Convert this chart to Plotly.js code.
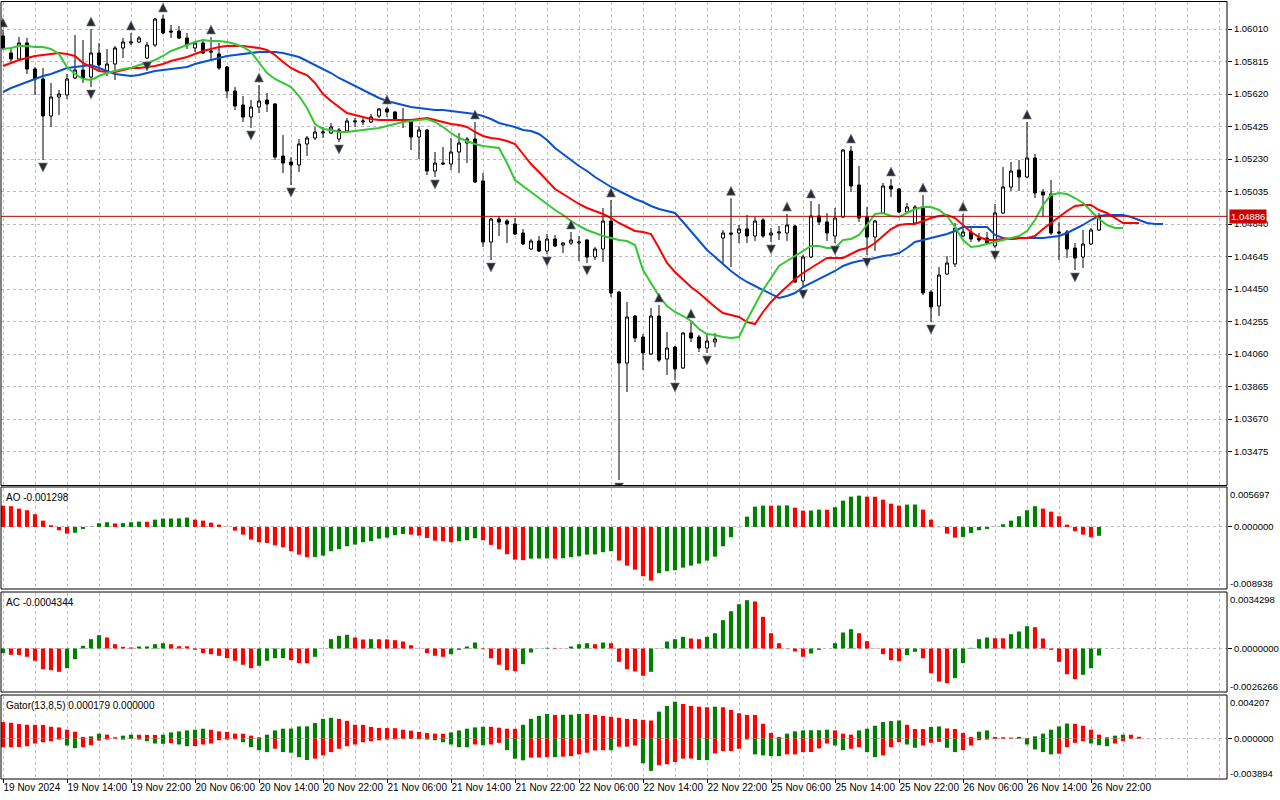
<!DOCTYPE html>
<html><head><meta charset="utf-8">
<script src="https://cdn.plot.ly/plotly-3.0.1.min.js"></script>
<style>html,body{margin:0;padding:0;background:#fff}#chart{width:1280px;height:800px}</style>
</head><body><div id="chart"></div>
<script>
// ---------- DATA (EURUSD H1, 19 Nov 06:00 .. 26 Nov 23:00) ----------
const xLabels = ["19 Nov 2024","19 Nov 14:00","19 Nov 22:00","20 Nov 06:00","20 Nov 14:00","20 Nov 22:00","21 Nov 06:00","21 Nov 14:00","21 Nov 22:00","22 Nov 06:00","22 Nov 14:00","22 Nov 22:00","25 Nov 06:00","25 Nov 14:00","25 Nov 22:00","26 Nov 06:00","26 Nov 14:00","26 Nov 22:00"];
const priceTicks = [1.03475,1.03670,1.03865,1.04060,1.04255,1.04450,1.04645,1.04840,1.05035,1.05230,1.05425,1.05620,1.05815,1.06010];
const lastPrice = 1.04886;

const opens = [1.05968,1.05866,1.05830,1.05926,1.05770,1.05710,1.05488,1.05602,1.05614,1.05716,
1.05764,1.05722,1.05866,1.05752,1.05800,1.05896,1.05926,1.05932,1.05836,1.05914,
1.06070,1.05998,1.05998,1.05956,1.05896,1.05926,1.05878,1.05860,1.05782,1.05638,
1.05554,1.05482,1.05542,1.05584,1.05560,1.05248,1.05212,1.05194,1.05320,1.05356,
1.05386,1.05386,1.05350,1.05398,1.05452,1.05452,1.05452,1.05488,1.05530,1.05512,
1.05464,1.05458,1.05362,1.05404,1.05158,1.05206,1.05200,1.05272,1.05326,1.05350,
1.05098,1.04732,1.04870,1.04858,1.04840,1.04786,1.04690,1.04738,1.04678,1.04750,
1.04714,1.04726,1.04726,1.04744,1.04642,1.04690,1.04858,1.04432,1.04006,1.04288,
1.04162,1.04060,1.04288,1.04030,1.04102,1.03976,1.04186,1.04162,1.04096,1.04132,
1.04756,1.04786,1.04786,1.04810,1.04768,1.04864,1.04774,1.04786,1.04786,1.04828,
1.04498,1.04642,1.04888,1.04852,1.04768,1.04882,1.05278,1.05074,1.04882,1.04762,
1.04906,1.05068,1.05050,1.04912,1.04846,1.04942,1.04432,1.04348,1.04540,1.04600,
1.04768,1.04792,1.04756,1.04756,1.04708,1.04906,1.05062,1.05164,1.05122,1.05236,
1.05032,1.05020,1.04792,1.04792,1.04696,1.04642,1.04720,1.04804];
const highs = [1.06004,1.05890,1.05962,1.05956,1.05782,1.05776,1.05686,1.05644,1.05740,1.05974,
1.05944,1.06010,1.05926,1.05890,1.05908,1.05956,1.05986,1.05968,1.05932,1.06076,
1.06094,1.06034,1.06028,1.05986,1.05938,1.05944,1.05962,1.05926,1.05788,1.05662,
1.05608,1.05584,1.05674,1.05626,1.05566,1.05374,1.05242,1.05350,1.05368,1.05422,
1.05422,1.05446,1.05416,1.05476,1.05476,1.05476,1.05500,1.05536,1.05542,1.05518,
1.05536,1.05470,1.05428,1.05410,1.05272,1.05302,1.05356,1.05386,1.05362,1.05452,
1.05146,1.04876,1.04888,1.04870,1.04876,1.04810,1.04750,1.04768,1.04780,1.04774,
1.04732,1.04792,1.04768,1.04750,1.04702,1.04936,1.04984,1.04438,1.04372,1.04294,
1.04180,1.04336,1.04354,1.04192,1.04108,1.04192,1.04258,1.04174,1.04180,1.04186,
1.04804,1.04994,1.04834,1.04894,1.04882,1.04876,1.04816,1.04828,1.04900,1.04834,
1.04654,1.04978,1.04960,1.04906,1.04936,1.05290,1.05308,1.05188,1.04942,1.04864,
1.05086,1.05110,1.05056,1.04966,1.04954,1.05014,1.04444,1.04582,1.04648,1.04846,
1.04900,1.04816,1.04786,1.04792,1.04960,1.05182,1.05212,1.05224,1.05452,1.05260,
1.05050,1.05104,1.04852,1.04804,1.04726,1.04804,1.04816,1.04906];
const lows = [1.05884,1.05812,1.05824,1.05740,1.05614,1.05224,1.05422,1.05494,1.05590,1.05710,
1.05686,1.05662,1.05764,1.05728,1.05704,1.05836,1.05914,1.05926,1.05830,1.05902,
1.05980,1.05956,1.05950,1.05890,1.05872,1.05860,1.05824,1.05764,1.05596,1.05524,
1.05452,1.05416,1.05506,1.05512,1.05224,1.05146,1.05074,1.05152,1.05248,1.05344,
1.05356,1.05380,1.05332,1.05392,1.05422,1.05434,1.05446,1.05476,1.05482,1.05458,
1.05416,1.05284,1.05230,1.05134,1.05122,1.05194,1.05164,1.05146,1.05206,1.05086,
1.04702,1.04624,1.04768,1.04726,1.04774,1.04714,1.04684,1.04672,1.04660,1.04702,
1.04666,1.04714,1.04618,1.04606,1.04624,1.04612,1.04402,1.03304,1.03832,1.04132,
1.03964,1.04054,1.04012,1.03934,1.03904,1.03970,1.04132,1.04072,1.04066,1.04102,
1.04606,1.04582,1.04726,1.04726,1.04738,1.04756,1.04732,1.04744,1.04738,1.04486,
1.04462,1.04636,1.04834,1.04738,1.04726,1.04876,1.05032,1.04852,1.04654,1.04678,
1.04900,1.05002,1.04906,1.04906,1.04840,1.04414,1.04252,1.04288,1.04534,1.04582,
1.04762,1.04732,1.04732,1.04720,1.04696,1.04900,1.05038,1.05038,1.05116,1.04996,
1.04882,1.04774,1.04624,1.04636,1.04564,1.04576,1.04714,1.04798];
const closes = [1.05896,1.05830,1.05926,1.05770,1.05710,1.05488,1.05602,1.05620,1.05710,1.05764,
1.05716,1.05866,1.05794,1.05800,1.05896,1.05932,1.05932,1.05956,1.05914,1.06070,
1.05986,1.05992,1.05956,1.05914,1.05926,1.05866,1.05872,1.05776,1.05638,1.05548,
1.05482,1.05542,1.05578,1.05560,1.05242,1.05206,1.05194,1.05320,1.05356,1.05392,
1.05392,1.05422,1.05404,1.05458,1.05458,1.05458,1.05482,1.05530,1.05512,1.05464,
1.05458,1.05362,1.05404,1.05158,1.05206,1.05200,1.05272,1.05326,1.05350,1.05092,
1.04732,1.04870,1.04852,1.04840,1.04780,1.04720,1.04738,1.04678,1.04750,1.04708,
1.04726,1.04744,1.04732,1.04642,1.04690,1.04858,1.04426,1.04006,1.04282,1.04156,
1.04066,1.04288,1.04024,1.04096,1.03970,1.04186,1.04156,1.04096,1.04138,1.04150,
1.04786,1.04780,1.04810,1.04768,1.04858,1.04768,1.04786,1.04792,1.04834,1.04492,
1.04642,1.04888,1.04852,1.04786,1.04876,1.05284,1.05068,1.04876,1.04762,1.04858,
1.05068,1.05050,1.04912,1.04942,1.04942,1.04426,1.04342,1.04534,1.04606,1.04816,
1.04792,1.04750,1.04744,1.04726,1.04906,1.05062,1.05158,1.05122,1.05236,1.05026,
1.05014,1.04786,1.04786,1.04690,1.04636,1.04720,1.04804,1.04886];

// Alligator lines (already shifted: jaw +8, teeth +5, lips +3 bars)
const jaw = [1.05632,1.05656,1.05674,1.05692,1.05710,1.05728,1.05740,1.05758,1.05776,1.05782,
1.05788,1.05794,1.05776,1.05758,1.05740,1.05734,1.05728,1.05734,1.05746,1.05758,
1.05764,1.05770,1.05776,1.05782,1.05800,1.05812,1.05824,1.05836,1.05848,1.05854,
1.05860,1.05866,1.05872,1.05872,1.05872,1.05866,1.05854,1.05842,1.05818,1.05794,
1.05770,1.05746,1.05716,1.05692,1.05668,1.05644,1.05620,1.05596,1.05578,1.05566,
1.05554,1.05542,1.05536,1.05530,1.05524,1.05524,1.05518,1.05512,1.05506,1.05500,
1.05488,1.05470,1.05446,1.05434,1.05422,1.05404,1.05398,1.05380,1.05344,1.05296,
1.05260,1.05224,1.05188,1.05158,1.05122,1.05092,1.05062,1.05038,1.05014,1.04990,
1.04972,1.04948,1.04930,1.04918,1.04906,1.04852,1.04798,1.04744,1.04684,1.04642,
1.04600,1.04558,1.04522,1.04492,1.04468,1.04444,1.04420,1.04396,1.04408,1.04426,
1.04462,1.04486,1.04510,1.04534,1.04558,1.04588,1.04606,1.04618,1.04624,1.04636,
1.04648,1.04654,1.04666,1.04696,1.04732,1.04744,1.04756,1.04768,1.04780,1.04798,
1.04822,1.04822,1.04822,1.04822,1.04774,1.04756,1.04750,1.04756,1.04756,1.04756,
1.04756,1.04762,1.04768,1.04786,1.04810,1.04834,1.04864,1.04888,1.04894,1.04894,
1.04894,1.04882,1.04864,1.04846,1.04840,1.04840];
const teeth = [1.05788,1.05806,1.05824,1.05836,1.05848,1.05854,1.05860,1.05866,1.05860,1.05848,
1.05806,1.05782,1.05758,1.05752,1.05752,1.05764,1.05776,1.05776,1.05782,1.05788,
1.05800,1.05818,1.05830,1.05842,1.05860,1.05878,1.05890,1.05902,1.05908,1.05908,
1.05908,1.05902,1.05896,1.05884,1.05854,1.05812,1.05776,1.05752,1.05734,1.05686,
1.05620,1.05578,1.05542,1.05506,1.05494,1.05482,1.05470,1.05464,1.05464,1.05464,
1.05464,1.05464,1.05470,1.05476,1.05464,1.05452,1.05440,1.05434,1.05422,1.05392,
1.05368,1.05356,1.05350,1.05338,1.05320,1.05260,1.05200,1.05152,1.05098,1.05050,
1.05020,1.04990,1.04960,1.04936,1.04918,1.04900,1.04876,1.04846,1.04822,1.04798,
1.04792,1.04780,1.04696,1.04606,1.04552,1.04504,1.04462,1.04426,1.04384,1.04342,
1.04306,1.04294,1.04282,1.04252,1.04240,1.04312,1.04372,1.04420,1.04468,1.04510,
1.04546,1.04576,1.04606,1.04636,1.04636,1.04636,1.04660,1.04684,1.04696,1.04726,
1.04768,1.04810,1.04834,1.04840,1.04840,1.04858,1.04876,1.04888,1.04894,1.04876,
1.04834,1.04792,1.04762,1.04744,1.04744,1.04750,1.04750,1.04756,1.04756,1.04768,
1.04810,1.04846,1.04882,1.04918,1.04948,1.04954,1.04954,1.04924,1.04906,1.04876,
1.04846,1.04846,1.04846];
const lips = [1.05890,1.05896,1.05908,1.05908,1.05902,1.05902,1.05890,1.05860,1.05782,1.05740,
1.05710,1.05704,1.05728,1.05746,1.05758,1.05770,1.05776,1.05794,1.05806,1.05824,
1.05848,1.05878,1.05896,1.05914,1.05932,1.05944,1.05938,1.05938,1.05932,1.05920,
1.05902,1.05872,1.05812,1.05746,1.05710,1.05686,1.05662,1.05608,1.05536,1.05440,
1.05410,1.05404,1.05392,1.05392,1.05398,1.05404,1.05410,1.05416,1.05428,1.05440,
1.05452,1.05458,1.05464,1.05470,1.05452,1.05422,1.05386,1.05356,1.05338,1.05320,
1.05308,1.05302,1.05296,1.05206,1.05104,1.05068,1.05032,1.04996,1.04960,1.04924,
1.04894,1.04858,1.04828,1.04804,1.04786,1.04768,1.04756,1.04744,1.04738,1.04714,
1.04564,1.04486,1.04408,1.04348,1.04312,1.04288,1.04258,1.04210,1.04180,1.04174,
1.04162,1.04156,1.04162,1.04264,1.04354,1.04444,1.04516,1.04588,1.04618,1.04648,
1.04678,1.04708,1.04708,1.04696,1.04696,1.04744,1.04750,1.04774,1.04834,1.04900,
1.04906,1.04888,1.04882,1.04906,1.04930,1.04942,1.04942,1.04924,1.04888,1.04822,
1.04744,1.04702,1.04708,1.04720,1.04732,1.04744,1.04756,1.04768,1.04798,1.04864,
1.04954,1.05014,1.05026,1.05020,1.04996,1.04966,1.04918,1.04870,1.04834,1.04816,
1.04816];

const fractalUpBars = [0,11,16,20,26,32,48,59,71,76,82,86,91,98,101,106,111,115,120,128];
const fractalDownBars = [5,11,18,31,36,42,54,61,68,73,77,84,88,96,100,104,108,116,124,134];

const ao = [0.003117,0.003029,0.002678,0.002444,0.001859,0.000922,0.000249,-0.000483,-0.000981,-0.000849,
-0.000293,0.000044,0.000541,0.000688,0.000512,0.000556,0.000688,0.000776,0.000761,0.001068,
0.001215,0.001229,0.001244,0.001361,0.001068,0.000922,0.000629,0.000337,0.000015,-0.000541,
-0.001127,-0.001859,-0.002239,-0.002342,-0.002678,-0.002971,-0.003556,-0.004054,-0.004434,-0.004391,
-0.004200,-0.003556,-0.003264,-0.002825,-0.002590,-0.002239,-0.002093,-0.001712,-0.001566,-0.001215,
-0.001024,-0.001127,-0.001273,-0.001610,-0.002005,-0.002093,-0.002239,-0.002093,-0.001946,-0.001654,
-0.001946,-0.002634,-0.003264,-0.003995,-0.004786,-0.004873,-0.004639,-0.004625,-0.004610,-0.004639,
-0.004581,-0.004434,-0.004288,-0.004054,-0.004025,-0.003703,-0.003556,-0.004932,-0.005664,-0.006249,
-0.007215,-0.007859,-0.006776,-0.006483,-0.006337,-0.005956,-0.005664,-0.005371,-0.004932,-0.004347,
-0.002825,-0.001507,-0.000044,0.001507,0.002971,0.003117,0.003103,0.003132,0.003147,0.002825,
0.002386,0.002400,0.002532,0.002517,0.002883,0.003849,0.004434,0.004581,0.004434,0.004420,
0.003995,0.003410,0.003117,0.003264,0.003278,0.002532,0.001068,-0.000029,-0.000981,-0.001566,
-0.001464,-0.000878,-0.000483,-0.000293,0.000015,0.000395,0.000922,0.001566,0.002444,0.003029,
0.002678,0.002239,0.001566,0.000337,-0.000629,-0.001127,-0.001507,-0.001298];
const ac = [-0.000290,-0.000389,-0.000396,-0.000513,-0.000760,-0.001279,-0.001341,-0.001440,-0.001217,-0.000661,
0.000167,0.000575,0.000822,0.000680,0.000266,0.000105,0.000062,0.000124,0.000130,0.000266,
0.000328,0.000266,0.000142,0.000136,-0.000080,-0.000290,-0.000352,-0.000451,-0.000599,-0.000760,
-0.001007,-0.001217,-0.001069,-0.000760,-0.000599,-0.000593,-0.000723,-0.000908,-0.000915,-0.000513,
0.000006,0.000575,0.000785,0.000847,0.000680,0.000556,0.000575,0.000569,0.000562,0.000513,
0.000433,0.000204,-0.000006,-0.000290,-0.000451,-0.000513,-0.000352,-0.000080,0.000124,0.000371,
-0.000043,-0.000599,-0.001007,-0.001341,-0.001403,-0.000970,-0.000247,0.000006,0.000043,0.000037,
0.000006,0.000124,0.000266,0.000328,0.000266,0.000371,0.000328,-0.000822,-0.001279,-0.001421,
-0.001687,-0.001440,0.000012,0.000433,0.000575,0.000723,0.000618,0.000575,0.000723,0.000946,
0.001749,0.002305,0.002738,0.002985,0.002905,0.001959,0.000946,0.000328,0.000019,-0.000185,
-0.000513,-0.000309,-0.000080,0.000000,0.000328,0.000989,0.001193,0.000946,0.000451,-0.000012,
-0.000352,-0.000723,-0.000785,-0.000414,-0.000204,-0.000599,-0.001526,-0.002039,-0.002144,-0.001835,
-0.000908,0.000043,0.000575,0.000680,0.000637,0.000630,0.000884,0.001051,0.001378,0.001316,
0.000618,-0.000080,-0.000822,-0.001588,-0.001897,-0.001625,-0.001217,-0.0004344];
const gatorUpper = [0.001630,0.001562,0.001435,0.001366,0.001357,0.001347,0.001171,0.001103,0.000878,0.000683,
0.000166,0.000224,0.000488,0.000390,0.000127,0.000293,0.000390,0.000381,0.000371,0.000361,
0.000390,0.000615,0.000712,0.000810,0.000878,0.000976,0.000878,0.000712,0.000654,0.000488,
0.000478,0.000293,0.000127,0.000390,0.000810,0.000976,0.000986,0.001200,0.001210,0.001532,
0.001952,0.002050,0.001952,0.001757,0.001366,0.001357,0.001142,0.001044,0.001035,0.001025,
0.000878,0.000781,0.000654,0.000556,0.000488,0.000478,0.000615,0.000810,0.000976,0.001103,
0.001171,0.001161,0.001074,0.000976,0.000966,0.001366,0.001952,0.002245,0.002440,0.002342,
0.002352,0.002362,0.002440,0.002430,0.002342,0.002245,0.002147,0.002050,0.001952,0.001942,
0.001854,0.001786,0.002664,0.003221,0.003640,0.003416,0.003221,0.003152,0.003094,0.003152,
0.003094,0.002830,0.002508,0.002342,0.002333,0.001464,0.000556,0.000166,0.000488,0.000712,
0.000810,0.000820,0.000830,0.000878,0.000810,0.000488,0.000390,0.000810,0.000976,0.001269,
0.001630,0.001728,0.001786,0.001366,0.000947,0.000937,0.001142,0.001200,0.001005,0.000947,
0.000556,0.000166,0.000683,0.000810,0.000166,0.000127,0.000098,0.000166,0.000068,0.000224,
0.000488,0.000878,0.001200,0.001493,0.001464,0.001269,0.000878,0.000390,0.000127,0.000293,
0.000390,0.000381,0.000179];
const gatorLower = [-0.000849,-0.000849,-0.000839,-0.000752,-0.000488,-0.000361,-0.000264,-0.000098,-0.000683,-0.000947,
-0.000849,-0.000654,-0.000195,-0.000098,-0.000010,-0.000098,-0.000029,-0.000098,-0.000264,-0.000488,
-0.000517,-0.000459,-0.000586,-0.000752,-0.000742,-0.000586,-0.000488,-0.000166,-0.000098,-0.000068,
-0.000361,-0.000849,-0.001142,-0.001337,-0.001005,-0.001337,-0.001396,-0.001825,-0.002118,-0.001981,
-0.001659,-0.001337,-0.001005,-0.000752,-0.000586,-0.000361,-0.000264,-0.000166,-0.000098,-0.000078,
-0.000029,-0.000049,-0.000068,-0.000098,-0.000166,-0.000361,-0.000586,-0.000849,-0.000859,-0.000586,
-0.000654,-0.000586,-0.000420,-0.001142,-0.001981,-0.002147,-0.001884,-0.001874,-0.001825,-0.001835,
-0.001786,-0.001728,-0.001562,-0.001396,-0.001171,-0.001142,-0.001152,-0.000810,-0.000800,-0.000683,
-0.002440,-0.003192,-0.002635,-0.002538,-0.002313,-0.001981,-0.001972,-0.002118,-0.002128,-0.001464,
-0.001240,-0.001230,-0.001005,-0.000098,-0.001562,-0.001659,-0.001728,-0.001737,-0.001562,-0.001561,
-0.001337,-0.001327,-0.000976,-0.000488,-0.000683,-0.001142,-0.001005,-0.000849,-0.001337,-0.001825,
-0.001659,-0.000849,-0.000361,-0.000586,-0.000908,-0.000683,-0.000420,-0.000322,-0.000908,-0.001337,
-0.001142,-0.000683,-0.000166,-0.000098,-0.000029,-0.000020,-0.000010,-0.000009,-0.000586,-0.001074,
-0.001337,-0.001562,-0.001493,-0.000849,-0.000420,-0.000264,-0.000488,-0.000654,-0.000752,-0.000488,
-0.000264];

const aoRange = [-0.008938, 0.005697];
const acRange = [-0.0026266, 0.0034298];
const gatorRange = [-0.003894, 0.004207];
const priceRange = [1.03274, 1.06172];

// ---------- STYLE ----------
const GREEN = '#008000', RED = '#ff0000';
const GRID = '#c4b4c4';
const FONT = 'Liberation Sans, Arial, sans-serif';
const FS = 9.5;
const H = 800;
const py = y => 1 - y / H;              // pixel row -> paper fraction
const idx = n => Array.from({length: n}, (_, i) => i);
const FR_GAP = 0.00072;                 // fractal arrow distance from high/low

function upDownColors(v, first) {
  return v.map((x, i) => i === 0 ? first : (x > v[i-1] ? GREEN : RED));
}
function absColors(v, first) {
  return v.map((x, i) => i === 0 ? first : (Math.abs(x) > Math.abs(v[i-1]) ? GREEN : RED));
}

const N = closes.length;
const labelBars = xLabels.map((_, k) => k * 8);

const data = [
  {type: 'candlestick', x: idx(N), open: opens, high: highs, low: lows, close: closes,
   xaxis: 'x', yaxis: 'y', whiskerwidth: 0, hoverinfo: 'skip',
   increasing: {line: {color: '#000', width: 1}, fillcolor: '#ffffff'},
   decreasing: {line: {color: '#000', width: 1}, fillcolor: '#000000'}},
  {type: 'scatter', mode: 'lines', x: idx(jaw.length), y: jaw, xaxis: 'x', yaxis: 'y',
   line: {color: '#0a50d2', width: 2}, hoverinfo: 'skip'},
  {type: 'scatter', mode: 'lines', x: idx(teeth.length), y: teeth, xaxis: 'x', yaxis: 'y',
   line: {color: '#ff0000', width: 2}, hoverinfo: 'skip'},
  {type: 'scatter', mode: 'lines', x: idx(lips.length), y: lips, xaxis: 'x', yaxis: 'y',
   line: {color: '#32c832', width: 2}, hoverinfo: 'skip'},
  {type: 'scatter', mode: 'markers', x: fractalUpBars, y: fractalUpBars.map(i => highs[i] + FR_GAP),
   xaxis: 'x', yaxis: 'y', hoverinfo: 'skip',
   marker: {symbol: 'arrow-up', size: 9, color: '#2b2b2b', line: {color: '#7a8aa8', width: 0.6}}},
  {type: 'scatter', mode: 'markers', x: fractalDownBars, y: fractalDownBars.map(i => lows[i] - FR_GAP),
   xaxis: 'x', yaxis: 'y', hoverinfo: 'skip',
   marker: {symbol: 'arrow-down', size: 9, color: '#2b2b2b', line: {color: '#7a8aa8', width: 0.6}}},
  {type: 'bar', x: idx(ao.length), y: ao, xaxis: 'x', yaxis: 'y2', width: 0.52,
   marker: {color: upDownColors(ao, RED), line: {width: 0}}, hoverinfo: 'skip'},
  {type: 'bar', x: idx(ac.length), y: ac, xaxis: 'x', yaxis: 'y3', width: 0.52,
   marker: {color: upDownColors(ac, GREEN), line: {width: 0}}, hoverinfo: 'skip'},
  {type: 'bar', x: idx(gatorUpper.length), y: gatorUpper, xaxis: 'x', yaxis: 'y4', width: 0.52,
   marker: {color: absColors(gatorUpper, RED), line: {width: 0}}, hoverinfo: 'skip'},
  {type: 'bar', x: idx(gatorLower.length), y: gatorLower, xaxis: 'x', yaxis: 'y4', width: 0.52,
   marker: {color: absColors(gatorLower, RED), line: {width: 0}}, hoverinfo: 'skip'}
];

const yBase = {side: 'right', anchor: 'x', ticks: 'outside', ticklen: 4, tickcolor: '#000',
  tickfont: {family: FONT, size: FS, color: '#000'}, showline: false, zeroline: false,
  showgrid: true, gridcolor: GRID, griddash: '3px,3px', gridwidth: 1, fixedrange: true};

const panes = {
  main: [485, 2], ao: [588, 488], ac: [691, 593], gator: [778, 696]
};

function border(top, bottom) {
  return {type: 'rect', xref: 'paper', yref: 'paper', x0: 0, x1: 1,
          y0: py(bottom), y1: py(top), line: {color: '#000', width: 1}, fillcolor: 'rgba(0,0,0,0)'};
}
function rightLabel(text, yPix, anchor, shift) {
  return {xref: 'paper', yref: 'paper', x: 1, y: py(yPix), xanchor: 'left', yanchor: anchor,
          xshift: 2, yshift: shift, text: text, showarrow: false, borderpad: 0,
          font: {family: FONT, size: FS, color: '#000'}};
}
function paneTitle(text, yPix) {
  return {xref: 'paper', yref: 'paper', x: 0, y: py(yPix), xanchor: 'left', yanchor: 'top',
          xshift: 3, yshift: -2, text: text, showarrow: false,
          font: {family: FONT, size: FS + 0.5, color: '#000'}};
}

const layout = {
  width: 1280, height: 800,
  margin: {l: 1, r: 53, t: 0, b: 0, autoexpand: false},
  paper_bgcolor: '#fff', plot_bgcolor: '#fff',
  showlegend: false, barmode: 'overlay', boxgap: 0.45,
  font: {family: FONT, size: FS, color: '#000'},
  xaxis: {domain: [0, 1], range: [-0.25, 153], anchor: 'y4', fixedrange: true,
    rangeslider: {visible: false},
    tickmode: 'array', tickvals: labelBars, ticktext: xLabels, tickangle: 0,
    ticks: 'outside', ticklen: 4, tickcolor: '#000', ticklabelposition: 'outside right',
    tickfont: {family: FONT, size: FS + 0.5, color: '#000'},
    showgrid: false, zeroline: false, showline: false, automargin: false,
    minor: {tickmode: 'linear', tick0: 0, dtick: 4, showgrid: true, gridcolor: GRID,
            griddash: '3px,3px', gridwidth: 1, ticks: ''}},
  yaxis: Object.assign({}, yBase, {domain: [py(panes.main[0]), py(panes.main[1])], range: priceRange,
    tickmode: 'array', tickvals: priceTicks, ticktext: priceTicks.map(v => v.toFixed(5))}),
  yaxis2: Object.assign({}, yBase, {domain: [py(panes.ao[0]), py(panes.ao[1])], range: aoRange,
    tickmode: 'array', tickvals: [0], ticktext: ['0.000000']}),
  yaxis3: Object.assign({}, yBase, {domain: [py(panes.ac[0]), py(panes.ac[1])], range: acRange,
    tickmode: 'array', tickvals: [0], ticktext: ['0.0000000']}),
  yaxis4: Object.assign({}, yBase, {domain: [py(panes.gator[0]), py(panes.gator[1])], range: gatorRange,
    tickmode: 'array', tickvals: [0], ticktext: ['0.000000']}),
  shapes: [
    border(1.5, 485.5), border(487, 589), border(592, 692), border(695, 779),
    {type: 'line', xref: 'paper', yref: 'y', x0: 0, x1: 1, y0: lastPrice, y1: lastPrice,
     line: {color: '#b40000', width: 1}}
  ],
  annotations: [
    {xref: 'paper', yref: 'y', x: 1, y: lastPrice, xanchor: 'left', yanchor: 'middle', xshift: 2,
     text: lastPrice.toFixed(5), showarrow: false, bgcolor: '#cc0000', borderpad: 1,
     font: {family: FONT, size: FS, color: '#fff'}},
    paneTitle('AO ' + ao[ao.length-1].toFixed(6), panes.ao[1]),
    paneTitle('AC ' + ac[ac.length-1].toFixed(7), panes.ac[1]),
    paneTitle('Gator(13,8,5) ' + gatorUpper[gatorUpper.length-1].toFixed(6) + ' 0.000000', panes.gator[1]),
    rightLabel(aoRange[1].toFixed(6), panes.ao[1], 'top', 0),
    rightLabel(aoRange[0].toFixed(6), panes.ao[0], 'bottom', -2),
    rightLabel(acRange[1].toFixed(7), panes.ac[1], 'top', 0),
    rightLabel(acRange[0].toFixed(7), panes.ac[0], 'bottom', -2),
    rightLabel(gatorRange[1].toFixed(6), panes.gator[1], 'top', 0),
    rightLabel(gatorRange[0].toFixed(6), panes.gator[0], 'bottom', -2)
  ]
};

Plotly.newPlot('chart', data, layout, {staticPlot: true, displayModeBar: false});
</script>
</body></html>
